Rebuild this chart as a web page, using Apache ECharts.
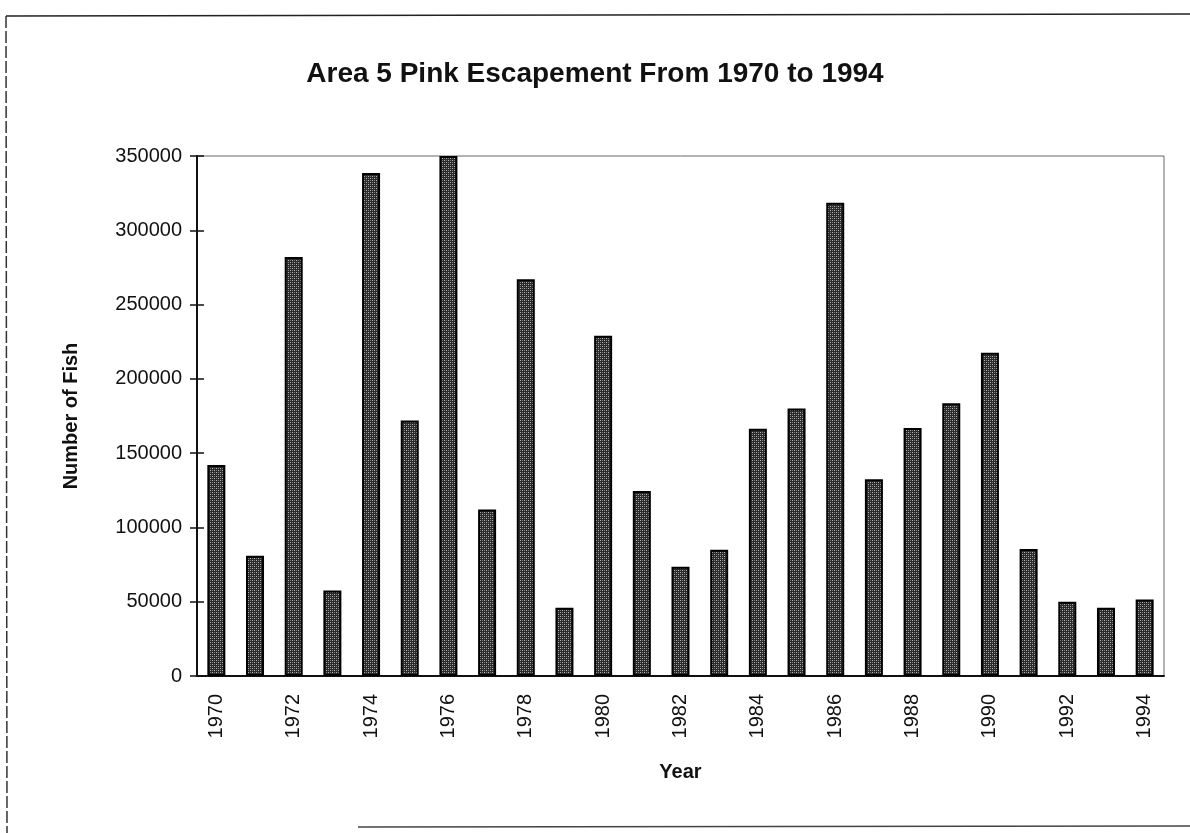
<!DOCTYPE html>
<html>
<head>
<meta charset="utf-8">
<script src="https://cdn.jsdelivr.net/npm/echarts@6/dist/echarts.min.js"></script>
<style>
  html, body { margin: 0; padding: 0; background: #fff; }
  #chart { width: 1190px; height: 833px; }
</style>
</head>
<body>
<div id="chart"></div>
<script>
// data
const years = ['1970', '1971', '1972', '1973', '1974', '1975', '1976', '1977', '1978', '1979',
  '1980', '1981', '1982', '1983', '1984', '1985', '1986', '1987', '1988', '1989',
  '1990', '1991', '1992', '1993', '1994'];
const escapement = [142000, 81000, 282000, 57500, 338500, 172000, 350000, 112000, 267000, 46000,
  229000, 124500, 73500, 85000, 166500, 180000, 318500, 132500, 167000, 183500,
  217500, 85500, 50000, 46000, 51500];
const yTicks = [0, 50000, 100000, 150000, 200000, 250000, 300000, 350000];

// stippled fill like the old printout
const makePattern = () => {
  const c = document.createElement('canvas');
  c.width = 4; c.height = 4;
  const ctx = c.getContext('2d');
  ctx.fillStyle = '#2a2a2a';
  ctx.fillRect(0, 0, 4, 4);
  ctx.fillStyle = '#b8b8b8';
  ctx.fillRect(0, 0, 1, 1);
  ctx.fillRect(2, 2, 1, 1);
  ctx.fillStyle = '#777';
  ctx.fillRect(2, 0, 1, 1);
  ctx.fillRect(0, 2, 1, 1);
  return c;
};

const chart = echarts.init(document.getElementById('chart'));
const font = 'Liberation Sans, Arial, sans-serif';

const option = {
  backgroundColor: '#fff',
  animation: false,
  title: {
    text: 'Area 5 Pink Escapement From 1970 to 1994',
    left: 'center',
    top: 55,
    textStyle: { fontFamily: font, fontSize: 28, fontWeight: 'bold', color: '#111' }
  },
  grid: { left: 197, right: 26, top: 156, bottom: 157, show: true, borderColor: '#666', borderWidth: 1 },
  xAxis: [
    {
      type: 'category',
      data: years,
      name: 'Year',
      nameLocation: 'middle',
      nameGap: 86,
      nameTextStyle: { fontFamily: font, fontSize: 20, fontWeight: 'bold', color: '#111' },
      axisLine: { lineStyle: { color: '#111', width: 2 } },
      axisTick: { length: 6, lineStyle: { color: '#111', width: 1.5 } },
      axisLabel: {
        interval: 1, rotate: 90, margin: 18,
        fontFamily: font, fontSize: 20, color: '#111'
      }
    },
    {
      type: 'category',
      data: years,
      position: 'bottom',
      axisLine: { show: false },
      axisTick: { inside: true, length: 6, lineStyle: { color: '#111', width: 1.5 } },
      axisLabel: { show: false }
    }
  ],
  yAxis: [
    {
      type: 'value',
      min: yTicks[0],
      max: yTicks[yTicks.length - 1],
      interval: 50000,
      name: 'Number of Fish',
      nameLocation: 'middle',
      nameGap: 116,
      nameTextStyle: { fontFamily: font, fontSize: 20, fontWeight: 'bold', color: '#111' },
      axisLine: { show: true, lineStyle: { color: '#111', width: 2 } },
      axisTick: { show: true, length: 7, lineStyle: { color: '#111', width: 1.5 } },
      axisLabel: {
        margin: 15, fontFamily: font, fontSize: 20, color: '#111',
        formatter: v => String(v)
      },
      splitLine: { show: false }
    },
    {
      type: 'value',
      position: 'left',
      min: yTicks[0],
      max: yTicks[yTicks.length - 1],
      interval: 50000,
      axisLine: { show: false },
      axisTick: { show: true, inside: true, length: 7, lineStyle: { color: '#111', width: 1.5 } },
      axisLabel: { show: false },
      splitLine: { show: false }
    }
  ],
  graphic: [
    { type: 'line', shape: { x1: 6, y1: 16, x2: 1190, y2: 14 }, style: { stroke: '#222', lineWidth: 1.5 } },
    { type: 'line', shape: { x1: 6, y1: 16, x2: 7, y2: 833 }, style: { stroke: '#333', lineWidth: 1.5, lineDash: [12, 3] } },
    { type: 'line', shape: { x1: 358, y1: 827, x2: 1190, y2: 826 }, style: { stroke: '#444', lineWidth: 1.5 } }
  ],
  series: [
    {
      type: 'bar',
      data: escapement,
      barWidth: 18,
      itemStyle: {
        color: { image: makePattern(), repeat: 'repeat' },
        borderColor: '#000',
        borderWidth: 2
      }
    }
  ]
};

chart.setOption(option);
</script>
</body>
</html>
